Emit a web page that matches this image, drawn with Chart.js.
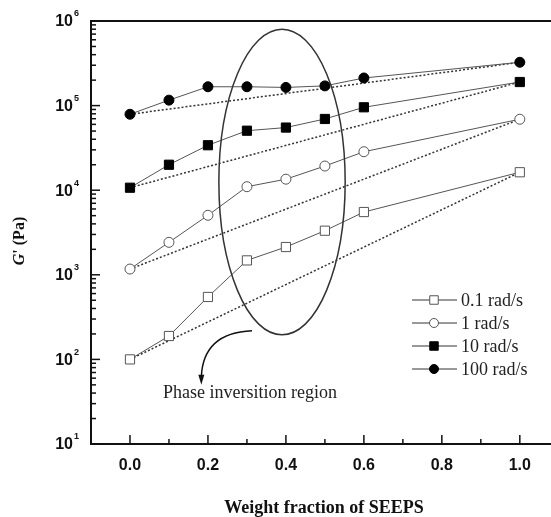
<!DOCTYPE html>
<html>
<head>
<meta charset="utf-8">
<script src="https://cdn.jsdelivr.net/npm/chart.js@4.4.0/dist/chart.umd.min.js"></script>
<style>
    html, body { margin: 0; padding: 0; background: #fff; }
</style>
</head>
<body>
<canvas id="gChart" width="551" height="517"></canvas>
<script>
// Data (G' in Pa vs weight fraction of SEEPS)
const fractions = [0, 0.1, 0.2, 0.3, 0.4, 0.5, 0.6, 1.0];
const g01 = [100, 189, 547, 1480, 2130, 3320, 5520, 16300];
const g1 = [1170, 2420, 5050, 11000, 13500, 19300, 28500, 69000];
const g10 = [10700, 20000, 34000, 50500, 55000, 69500, 95500, 190000];
const g100 = [79000, 116000, 167000, 167000, 164000, 171000, 212000, 325000];
const seriesLabels = ['0.1 rad/s', '1 rad/s', '10 rad/s', '100 rad/s'];

const xTicks = [0, 0.2, 0.4, 0.6, 0.8, 1.0];
const xMinorTicks = [0.1, 0.3, 0.5, 0.7, 0.9];
const yExponents = [1, 2, 3, 4, 5, 6];

// annotation (data units)
const ellipseX = 0.39, ellipseRx = 0.162, ellipseTop = 8.0e5, ellipseBottom = 195;
const noteText = 'Phase inversition region';
const noteX = 0.308, noteY = 40;
const arrowFrom = { x: 0.313, y: 218 }, arrowTo = { x: 0.183, y: 53 };

const SERIF = '"Liberation Serif", "DejaVu Serif", serif';
const SANS = '"Liberation Sans", Arial, sans-serif';

function pts(vals) {
    return fractions.map(function(f, i) { return { x: f, y: vals[i] }; });
}
function ends(vals) {
    const n = vals.length - 1;
    return [{ x: fractions[0], y: vals[0] }, { x: fractions[n], y: vals[n] }];
}

const styles = [
    { vals: g01, shape: 'rect', fill: '#fff', stroke: '#555', r: 6.5 },
    { vals: g1, shape: 'circle', fill: '#fff', stroke: '#555', r: 5 },
    { vals: g10, shape: 'rect', fill: '#000', stroke: '#000', r: 6.5 },
    { vals: g100, shape: 'circle', fill: '#000', stroke: '#000', r: 5 }
];

const datasets = [];
styles.forEach(function(s, i) {
    datasets.push({
        label: seriesLabels[i],
        data: pts(s.vals),
        borderColor: '#555',
        borderWidth: 1,
        pointStyle: s.shape,
        pointRadius: s.r,
        pointBackgroundColor: s.fill,
        pointBorderColor: s.stroke,
        pointBorderWidth: 1,
        fill: false,
        tension: 0
    });
});
// dotted lines joining the end points of each series
styles.forEach(function(s, i) {
    datasets.push({
        label: seriesLabels[i] + ' ends',
        data: ends(s.vals),
        borderColor: '#333',
        borderWidth: 1.5,
        borderDash: [2, 2],
        pointRadius: 0,
        fill: false
    });
});

function drawMarker(ctx, s, x, y, r) {
    ctx.save();
    ctx.fillStyle = s.fill;
    ctx.strokeStyle = s.stroke;
    ctx.lineWidth = 1;
    ctx.beginPath();
    if (s.shape === 'rect') {
        const h = r * Math.SQRT1_2;
        ctx.rect(x - h, y - h, 2 * h, 2 * h);
    } else {
        ctx.arc(x, y, r, 0, Math.PI * 2);
    }
    ctx.fill();
    ctx.stroke();
    ctx.restore();
}

const decorPlugin = {
    id: 'decor',
    afterDraw: function(chart) {
        const ctx = chart.ctx;
        const a = chart.chartArea;
        const xs = chart.scales.x, ys = chart.scales.y;
        ctx.save();

        // frame: left, bottom, top
        ctx.strokeStyle = '#111';
        ctx.lineWidth = 2;
        ctx.beginPath();
        ctx.moveTo(a.right, a.top);
        ctx.lineTo(a.left, a.top);
        ctx.lineTo(a.left, a.bottom);
        ctx.lineTo(a.right, a.bottom);
        ctx.stroke();

        // x ticks (inside)
        ctx.lineWidth = 1.5;
        xTicks.forEach(function(v) {
            const px = xs.getPixelForValue(v);
            ctx.beginPath(); ctx.moveTo(px, a.bottom); ctx.lineTo(px, a.bottom - 9); ctx.stroke();
        });
        xMinorTicks.forEach(function(v) {
            const px = xs.getPixelForValue(v);
            ctx.beginPath(); ctx.moveTo(px, a.bottom); ctx.lineTo(px, a.bottom - 5); ctx.stroke();
        });

        // y ticks and labels
        yExponents.forEach(function(e) {
            const py = ys.getPixelForValue(Math.pow(10, e));
            ctx.beginPath(); ctx.moveTo(a.left, py); ctx.lineTo(a.left + 9, py); ctx.stroke();
            if (e < yExponents[yExponents.length - 1]) {
                for (let k = 2; k <= 9; k++) {
                    const my = ys.getPixelForValue(k * Math.pow(10, e));
                    ctx.beginPath(); ctx.moveTo(a.left, my); ctx.lineTo(a.left + 5, my); ctx.stroke();
                }
            }
            ctx.fillStyle = '#111';
            ctx.font = 'bold 16px ' + SANS;
            ctx.textAlign = 'right';
            ctx.textBaseline = 'middle';
            ctx.fillText('10', a.left - 18, py + 1);
            ctx.font = 'bold 9px ' + SANS;
            ctx.textAlign = 'left';
            ctx.fillText(String(e), a.left - 17, py - 7);
        });

        // x title
        ctx.fillStyle = '#111';
        ctx.font = 'bold 18px ' + SERIF;
        ctx.textAlign = 'center';
        ctx.textBaseline = 'middle';
        ctx.fillText('Weight fraction of SEEPS', 324, a.bottom + 64);

        // y title: G' (Pa)
        ctx.save();
        ctx.translate(20, a.top + 220);
        ctx.rotate(-Math.PI / 2);
        const p1 = 'G', p2 = "' (Pa)";
        ctx.font = 'bold italic 16px ' + SERIF;
        const w1 = ctx.measureText(p1).width;
        ctx.font = 'bold 16px ' + SERIF;
        const w2 = ctx.measureText(p2).width;
        let sx = -(w1 + w2) / 2;
        ctx.textAlign = 'left';
        ctx.font = 'bold italic 16px ' + SERIF;
        ctx.fillText(p1, sx, 0);
        ctx.font = 'bold 16px ' + SERIF;
        ctx.fillText(p2, sx + w1, 0);
        ctx.restore();

        // ellipse
        const ex = xs.getPixelForValue(ellipseX);
        const erx = xs.getPixelForValue(ellipseX + ellipseRx) - ex;
        const et = ys.getPixelForValue(ellipseTop), eb = ys.getPixelForValue(ellipseBottom);
        ctx.strokeStyle = '#333';
        ctx.lineWidth = 1.5;
        ctx.beginPath();
        ctx.ellipse(ex, (et + eb) / 2, erx, (eb - et) / 2, 0, 0, Math.PI * 2);
        ctx.stroke();

        // curved arrow
        const ax0 = xs.getPixelForValue(arrowFrom.x), ay0 = ys.getPixelForValue(arrowFrom.y);
        const ax1 = xs.getPixelForValue(arrowTo.x), ay1 = ys.getPixelForValue(arrowTo.y);
        ctx.strokeStyle = '#111';
        ctx.lineWidth = 1.5;
        ctx.beginPath();
        ctx.moveTo(ax0, ay0);
        ctx.quadraticCurveTo(ax1 + 2, ay0 + 2, ax1, ay1 - 6);
        ctx.stroke();
        ctx.fillStyle = '#111';
        ctx.beginPath();
        ctx.moveTo(ax1, ay1 + 2);
        ctx.lineTo(ax1 - 3, ay1 - 8);
        ctx.lineTo(ax1 + 3, ay1 - 8);
        ctx.closePath();
        ctx.fill();

        // note text
        ctx.fillStyle = '#222';
        ctx.font = '18px ' + SERIF;
        ctx.textAlign = 'center';
        ctx.textBaseline = 'middle';
        ctx.fillText(noteText, xs.getPixelForValue(noteX), ys.getPixelForValue(noteY));

        // legend
        const lx = a.right - 139;
        const ly = a.top + 279;
        styles.forEach(function(s, i) {
            const y = ly + i * 23;
            ctx.strokeStyle = '#333';
            ctx.lineWidth = 1;
            ctx.beginPath(); ctx.moveTo(lx, y); ctx.lineTo(lx + 45, y); ctx.stroke();
            drawMarker(ctx, s, lx + 22, y, s.shape === 'rect' ? 6 : 4.5);
            ctx.fillStyle = '#222';
            ctx.font = '18px ' + SERIF;
            ctx.textAlign = 'left';
            ctx.textBaseline = 'middle';
            ctx.fillText(seriesLabels[i], lx + 49, y + 1);
        });

        ctx.restore();
    }
};

new Chart(document.getElementById('gChart'), {
    type: 'line',
    data: { datasets: datasets },
    options: {
        responsive: false,
        animation: false,
        layout: { autoPadding: false, padding: { top: 21, right: 0, left: 0, bottom: 0 } },
        plugins: {
            legend: { display: false },
            tooltip: { enabled: false }
        },
        scales: {
            x: {
                type: 'linear',
                min: -0.1,
                max: 1.08,
                afterBuildTicks: function(scale) {
                    scale.ticks = xTicks.map(function(v) { return { value: v }; });
                },
                afterFit: function(scale) {
                    scale.height = 73;
                    scale.paddingLeft = 0;
                    scale.paddingRight = 0;
                },
                grid: { display: false, drawTicks: false },
                border: { display: false },
                ticks: {
                    autoSkip: false,
                    maxRotation: 0,
                    padding: 12,
                    color: '#111',
                    font: { family: SANS, size: 16, weight: 'bold' },
                    callback: function(v) { return Number(v).toFixed(1); }
                }
            },
            y: {
                type: 'logarithmic',
                min: 10,
                max: 1e6,
                afterFit: function(scale) {
                    scale.width = 91;
                    scale.paddingTop = 0;
                    scale.paddingBottom = 0;
                },
                grid: { display: false, drawTicks: false },
                border: { display: false },
                ticks: { display: false }
            }
        }
    },
    plugins: [decorPlugin]
});
</script>
</body>
</html>
